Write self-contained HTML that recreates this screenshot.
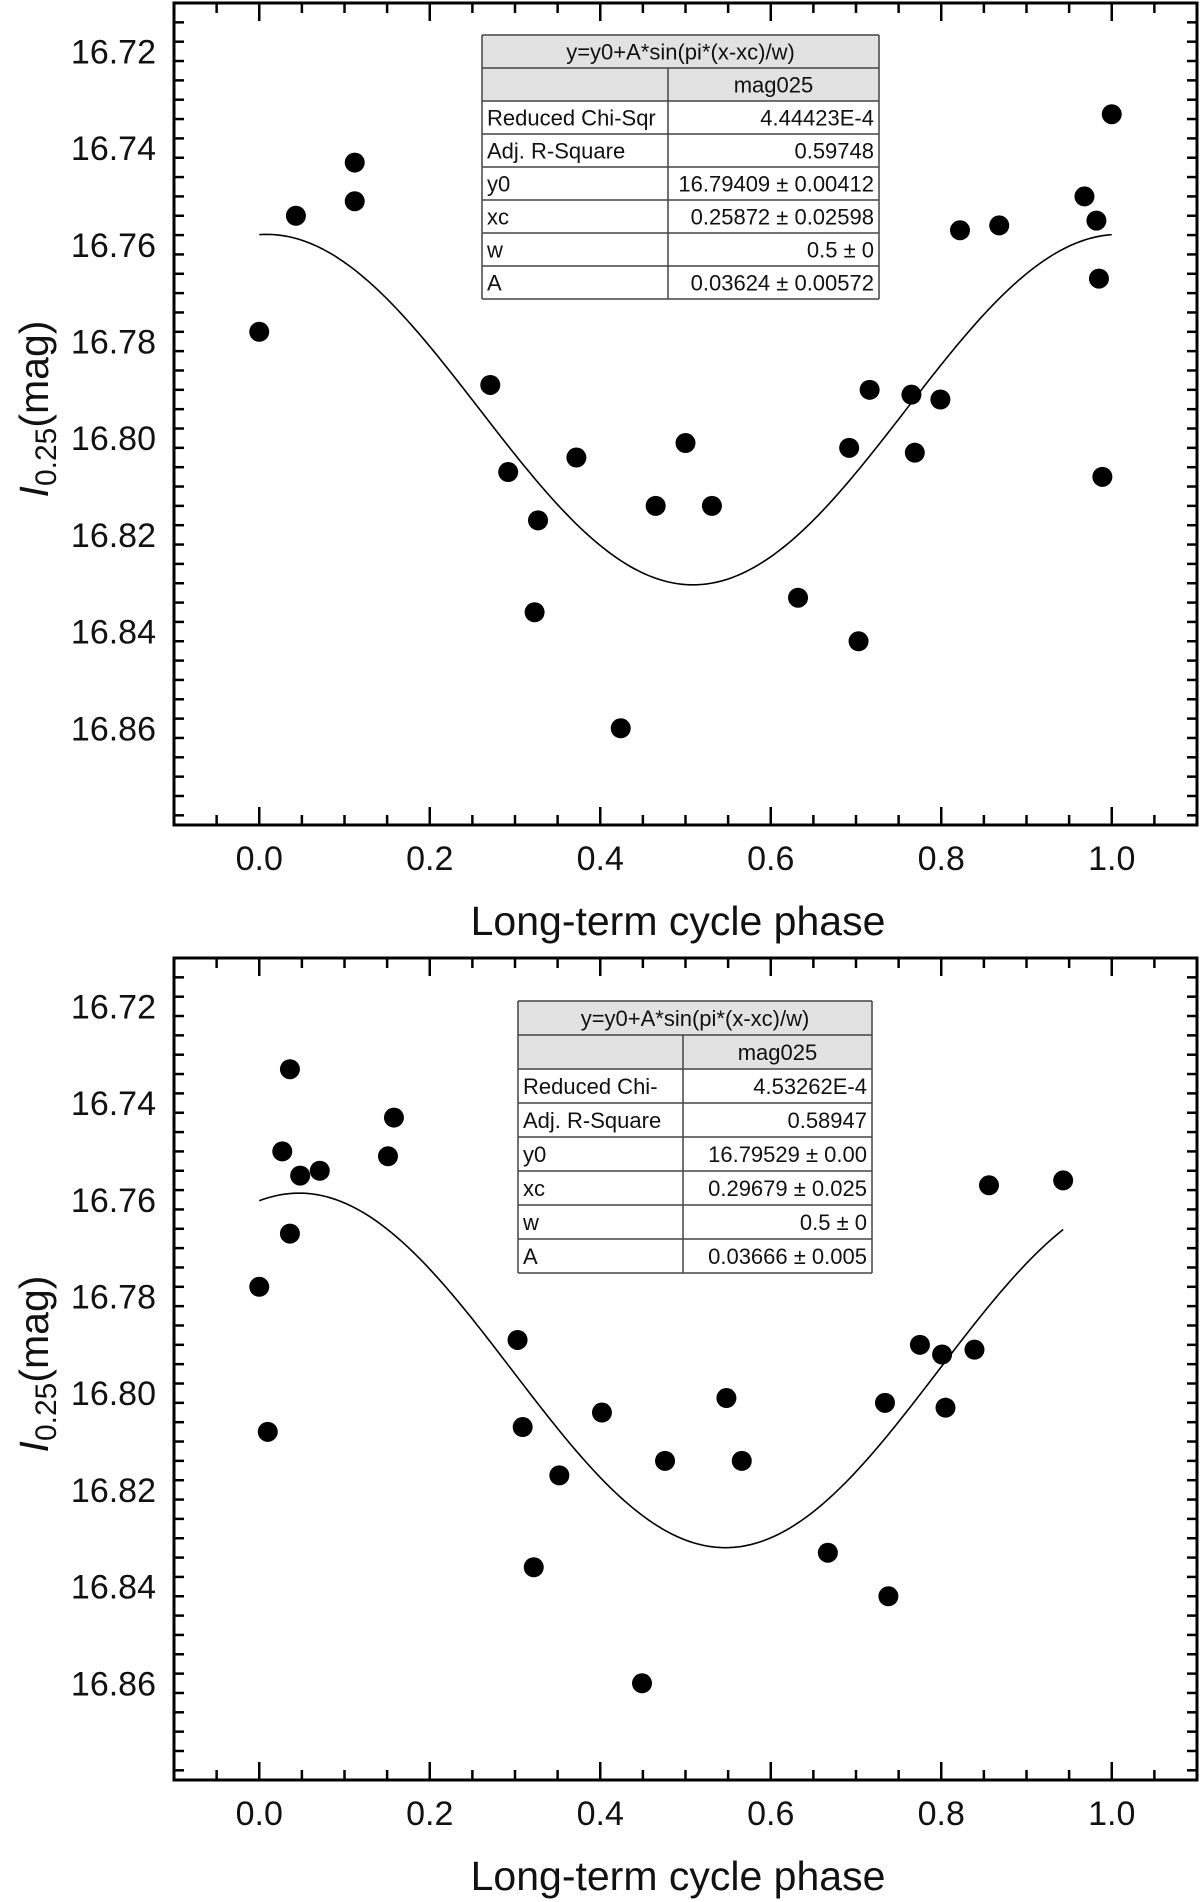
<!DOCTYPE html>
<html><head><meta charset="utf-8"><style>
html,body{margin:0;padding:0;background:#fff}
svg{display:block;font-family:"Liberation Sans",Arial,sans-serif}
</style></head><body>
<svg id="c" width="1200" height="1902" viewBox="0 0 1200 1902" xmlns="http://www.w3.org/2000/svg"></svg>
<script>
// Top panel data
const topPhase = [0,0.043,0.112,0.112,0.271,0.292,0.327,0.323,0.372,0.424,0.465,0.5,0.531,0.632,0.692,0.703,0.716,0.765,0.769,0.799,0.822,0.868,0.968,0.982,0.985,0.989,1.0];
const topMag = [16.778,16.754,16.743,16.751,16.789,16.807,16.817,16.836,16.804,16.860,16.814,16.801,16.814,16.833,16.802,16.842,16.790,16.791,16.803,16.792,16.757,16.756,16.750,16.755,16.767,16.808,16.733];
// Bottom panel data
const botPhase = [0,0.010,0.027,0.036,0.036,0.048,0.071,0.151,0.158,0.303,0.309,0.352,0.322,0.402,0.449,0.476,0.548,0.566,0.667,0.734,0.738,0.775,0.801,0.805,0.839,0.856,0.943];
const botMag = [16.778,16.808,16.750,16.733,16.767,16.755,16.754,16.751,16.743,16.789,16.807,16.817,16.836,16.804,16.860,16.814,16.801,16.814,16.833,16.802,16.842,16.790,16.792,16.803,16.791,16.757,16.756];
// Fit parameters
const topFit = [16.79409, 0.03624, 0.25872, 0.5, 0, 1.0];
const botFit = [16.79529, 0.03666, 0.29679, 0.5, 0, 0.943];
// Tick labels
const xTickLabels = ["0.0","0.2","0.4","0.6","0.8","1.0"];
const xTickValues = [0,0.2,0.4,0.6,0.8,1.0];
const yTickLabels = ["16.72","16.74","16.76","16.78","16.80","16.82","16.84","16.86"];
const yTickValues = [16.72,16.74,16.76,16.78,16.80,16.82,16.84,16.86];
// Table contents
const topTable = [["Reduced Chi-Sqr","4.44423E-4"],["Adj. R-Square","0.59748"],["y0","16.79409 \u00b1 0.00412"],["xc","0.25872 \u00b1 0.02598"],["w","0.5 \u00b1 0"],["A","0.03624 \u00b1 0.00572"]];
const botTable = [["Reduced Chi-","4.53262E-4"],["Adj. R-Square","0.58947"],["y0","16.79529 \u00b1 0.00"],["xc","0.29679 \u00b1 0.025"],["w","0.5 \u00b1 0"],["A","0.03666 \u00b1 0.005"]];

const NS="http://www.w3.org/2000/svg";
const svg=document.getElementById('c');
function mk(tag,attrs,parent,text){const e=document.createElementNS(NS,tag);for(const k in attrs)e.setAttribute(k,attrs[k]);if(text!==undefined)e.textContent=text;(parent||svg).appendChild(e);return e;}

const L=174,R=1197,H=822,XMIN=-0.1,XMAX=1.1,YMIN=16.71,YMAX=16.88;

function panel(oy,name,phase,mag,fit,tbl,tx,ty,tw,split,rh){
  const g=mk('g',{});
  
  
  const T=oy, B=oy+H;
  const xs=v=>L+(v-XMIN)/(XMAX-XMIN)*(R-L);
  const ys=v=>T+(v-YMIN)/(YMAX-YMIN)*H;
  for(let i=0;i<=24;i++){const v=XMIN+i*0.05;const x=xs(v);const major=Math.abs(v*5-Math.round(v*5))<1e-6;const len=major?18:10;
    const t1=mk('line',{x1:x,y1:B,x2:x,y2:B-len,stroke:'#000','stroke-width':2.5},g);
    
    
    const t2=mk('line',{x1:x,y1:T,x2:x,y2:T+len,stroke:'#000','stroke-width':2.5},g);
    
    }
  for(let i=0;i<=42;i++){const v=YMIN+i*0.004;if(v>YMAX+1e-9)break;const y=ys(v);const major=Math.abs((v-16.72)/0.02-Math.round((v-16.72)/0.02))<1e-4;const len=major?18:10;
    const t1=mk('line',{x1:L,y1:y,x2:L+len,y2:y,stroke:'#000','stroke-width':2.5},g);
    
    
    const t2=mk('line',{x1:R,y1:y,x2:R-len,y2:y,stroke:'#000','stroke-width':2.5},g);
    
    }
  const fr=mk('rect',{x:L,y:T,width:R-L,height:H,fill:'none',stroke:'#000','stroke-width':3},g);
  
  
  xTickValues.forEach((v,i)=>{const t=mk('text',{x:xs(v),y:B+45,'font-size':34,'text-anchor':'middle',fill:'#111'},g,xTickLabels[i]);
    
    });
  yTickValues.forEach((v,i)=>{const t=mk('text',{x:156,y:ys(v)+12,'font-size':34,'text-anchor':'end',fill:'#111'},g,yTickLabels[i]);
    
    });
  const xt=mk('text',{x:678,y:B+110,'font-size':41,'text-anchor':'middle',fill:'#111'},g,'Long-term cycle phase');
  
  
  const yt=mk('text',{transform:`translate(48,${T+406}) rotate(-90)`,'font-size':41,'text-anchor':'middle',fill:'#111'},g);
  
  
  mk('tspan',{'font-style':'italic'},yt,'I');
  mk('tspan',{'font-size':30,dy:8},yt,'0.25');
  mk('tspan',{dy:-8},yt,'(mag)');
  const [y0,A,xc,w,x0,x1]=fit;let d='';
  for(let i=0;i<=200;i++){const x=x0+(x1-x0)*i/200;const y=y0+A*Math.sin(Math.PI*(x-xc)/w);d+=(i?'L':'M')+xs(x).toFixed(2)+','+ys(y).toFixed(2);}
  const cp=mk('path',{d:d,fill:'none',stroke:'#000','stroke-width':1.6},g);
  
  
  phase.forEach((p,i)=>{const c=mk('circle',{cx:xs(p),cy:ys(mag[i]),r:10,fill:'#000'},g);
    
    });
  const tg=mk('g',{},g);
  
  
  mk('rect',{x:tx,y:ty,width:tw,height:rh*2,fill:'#e2e2e2'},tg);
  mk('rect',{x:tx,y:ty+rh*2,width:tw,height:rh*6,fill:'#fff'},tg);
  for(let r=0;r<=8;r++)mk('line',{x1:tx,y1:ty+r*rh,x2:tx+tw,y2:ty+r*rh,stroke:'#444','stroke-width':1.5},tg);
  mk('line',{x1:tx,y1:ty,x2:tx,y2:ty+8*rh,stroke:'#444','stroke-width':1.5},tg);
  mk('line',{x1:tx+tw,y1:ty,x2:tx+tw,y2:ty+8*rh,stroke:'#444','stroke-width':1.5},tg);
  mk('line',{x1:split,y1:ty+rh,x2:split,y2:ty+8*rh,stroke:'#444','stroke-width':1.5},tg);
  const off=rh/2+8;
  mk('text',{x:tx+tw/2,y:ty+off,'font-size':22,'text-anchor':'middle',fill:'#111'},tg,'y=y0+A*sin(pi*(x-xc)/w)');
  mk('text',{x:(split+tx+tw)/2,y:ty+rh+off,'font-size':22,'text-anchor':'middle',fill:'#111'},tg,'mag025');
  tbl.forEach((row,i)=>{const yy=ty+(i+2)*rh+off;
    mk('text',{x:tx+5,y:yy,'font-size':22,fill:'#111'},tg,row[0]);
    mk('text',{x:tx+tw-5,y:yy,'font-size':22,'text-anchor':'end',fill:'#111'},tg,row[1]);});
}
panel(3,'top-panel',topPhase,topMag,topFit,topTable,482,35,397,668,33);
panel(958,'bottom-panel',botPhase,botMag,botFit,botTable,518,1001,354,683,34);
</script>
</body></html>
